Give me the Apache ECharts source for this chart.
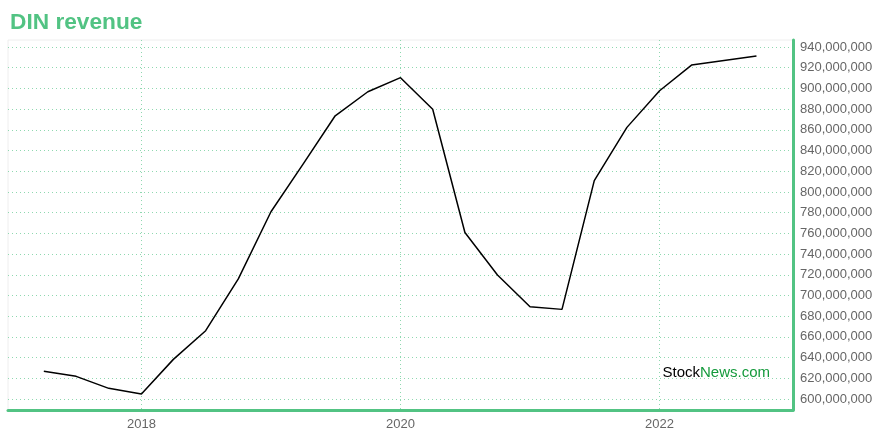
<!DOCTYPE html>
<html>
<head>
<meta charset="utf-8">
<script src="https://cdn.jsdelivr.net/npm/echarts@6/dist/echarts.min.js"></script>
<style>html,body{margin:0;padding:0;background:#fff}#c{width:880px;height:440px}</style>
</head>
<body>
<div id="c"></div>
<script>
// Quarter dates and revenue (USD)
const dates = ['2017-04-01','2017-07-01','2017-10-01','2018-01-01','2018-04-01','2018-07-01','2018-10-01',
  '2019-01-01','2019-04-01','2019-07-01','2019-10-01','2020-01-01','2020-04-01','2020-07-01','2020-10-01',
  '2021-01-01','2021-04-01','2021-07-01','2021-10-01','2022-01-01','2022-04-01','2022-10-01'];
const revenue = [626.8e6,621.9e6,610.3e6,604.8e6,638.3e6,666.0e6,716.0e6,
  780.9e6,826.7e6,873.6e6,896.8e6,910.4e6,879.9e6,760.8e6,719.8e6,
  689.2e6,686.6e6,811.0e6,862.4e6,897.8e6,922.6e6,931.3e6];
const yTicks = [600e6,620e6,640e6,660e6,680e6,700e6,720e6,740e6,760e6,780e6,800e6,820e6,840e6,860e6,880e6,900e6,920e6,940e6];
const xTicks = [2018, 2020, 2022];

function decYear(s){
  const [y,m,d] = s.split('-').map(Number);
  const t = Date.UTC(y,m-1,d), t0 = Date.UTC(y,0,1), t1 = Date.UTC(y+1,0,1);
  return y + (t - t0)/(t1 - t0);
}
const points = dates.map((d,i)=>[decYear(d), revenue[i]]);

const green = '#52c383';
const gridColor = '#8fd8b0';
const font = 'Liberation Sans, Arial, sans-serif';
const chart = echarts.init(document.getElementById('c'));
chart.setOption({
  animation: false,
  title: {
    text: 'DIN revenue', left: 5, top: 6,
    textStyle: {color: green, fontSize: 22.7, fontWeight: 'bold', fontFamily: font}
  },
  grid: {left: 8, right: 87, top: 40, bottom: 30, show: true, borderColor: '#eeeeee', borderWidth: 1},
  xAxis: {
    type: 'value', min: 2016.97, max: 2023.03,
    axisLine: {show: true, onZero: false, lineStyle: {color: green, width: 3}},
    axisTick: {show: false, customValues: xTicks},
    axisLabel: {customValues: xTicks, formatter: v => String(Math.round(v)), color: '#666', fontSize: 13, margin: 8,
      fontFamily: font},
    splitLine: {show: true, lineStyle: {color: gridColor, type: [1,3], width: 1}}
  },
  yAxis: {
    type: 'value', position: 'right', min: 589.4e6, max: 946.8e6,
    axisLine: {show: true, lineStyle: {color: green, width: 3}},
    axisTick: {show: false, customValues: yTicks},
    axisLabel: {customValues: yTicks, formatter: v => Math.round(v).toLocaleString('en-US'), color: '#666', fontSize: 13, margin: 7,
      fontFamily: font},
    splitLine: {show: true, lineStyle: {color: gridColor, type: [1,3], width: 1}}
  },
  series: [{
    type: 'line', data: points, showSymbol: false, symbol: 'none',
    lineStyle: {color: '#000', width: 1.5}
  }],
  graphic: [{
    type: 'text', right: 110, top: 365,
    style: {
      text: '{a|Stock}{b|News.com}',
      rich: {
        a: {fill: '#000', fontSize: 15, fontFamily: font},
        b: {fill: '#149a3c', fontSize: 15, fontFamily: font}
      }
    }
  }]
});
</script>
</body>
</html>
